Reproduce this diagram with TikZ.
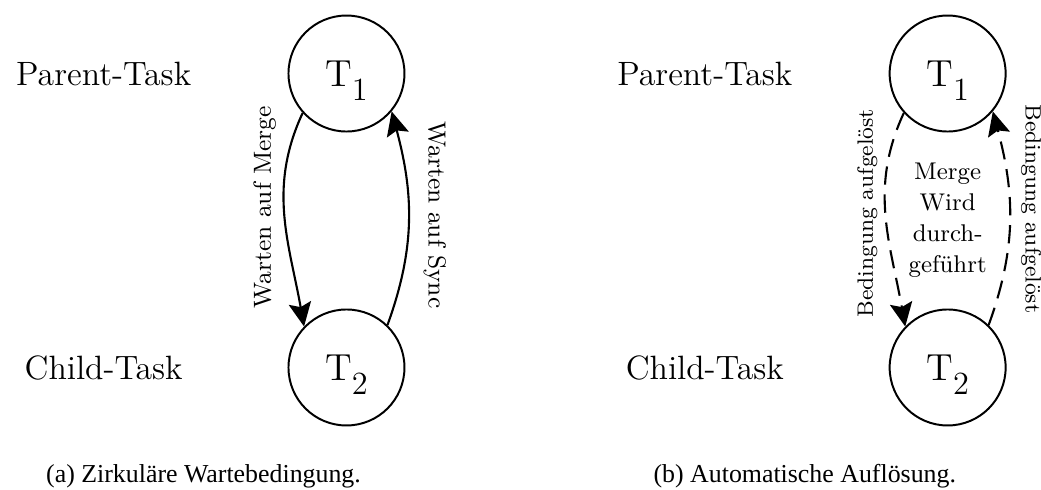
\documentclass[tikz,border=0pt]{standalone}
\usepackage{fontspec}
\newfontfamily\captionfont{Liberation Serif}
\usepackage{tikz}
\usetikzlibrary{positioning}
\usetikzlibrary{calc}
\usetikzlibrary{arrows.meta}
\tikzset{>=stealth}
\tikzstyle{line} = [draw, -{Stealth[length=8.5pt,width=8pt,inset=1.5pt]}]
\newcommand{\tasknr}[1]{T\raisebox{-5pt}[0pt][0pt]{\fontsize{11.5}{11.5}\selectfont #1}}

\begin{document}
\begin{tikzpicture}[%
      task/.style={draw, circle, line width=0.7pt, minimum size=1.45cm,
      inner sep=0pt, font=\fontsize{13.4}{16}\selectfont},
      role/.style={font=\fontsize{12}{14}\selectfont},
      note/.style={font=\fontsize{8.8}{11}\selectfont},
      leftnote/.style={note, rotate=90, anchor=south, inner sep=2.5pt},
      rightnote/.style={note, rotate=-90, anchor=south, inner sep=5pt},
      resolved/.style={dash pattern=on 6.5pt off 3.5pt},
      caption/.style={font=\captionfont\fontsize{9.2}{11}\selectfont, anchor=base}]
    \useasboundingbox (0,0) rectangle (13.0125,-6.125);
    %% (a) waiting for each other
    \node [task] (T1a) at (4.331,-0.919) {\tasknr{1}};
    \node [task, below=2.2cm of T1a] (T2a) {\tasknr{2}};
    \node [role, left=1.08cm of T1a] (parentA) {Parent-Task};
    \node [role] (childA) at (parentA |- T2a) {Child-Task};
    \path [line, line width=0.75pt] (T1a.222) to [out=245, in=100] node [leftnote, pos=0.45] (mergeA) {Warten auf Merge} (T2a.136);
    \path [line, line width=0.75pt] (T2a.46) to [out=70, in=-75] node [rightnote, pos=0.52] (syncA) {Warten auf Sync} (T1a.320);
    \node [caption] (capA) at (2.544,-6.0375) {(a) Zirkuläre Wartebedingung.};
    %% (b) resolved
    \node [task, right=6.04cm of T1a] (T1b) {\tasknr{1}};
    \node [task, below=2.2cm of T1b] (T2b) {\tasknr{2}};
    \node [role, left=1.08cm of T1b] (parentB) {Parent-Task};
    \node [role] (childB) at (parentB |- T2b) {Child-Task};
    \path [line, resolved, line width=0.75pt] (T1b.222) to [out=245, in=100] node [leftnote, pos=0.48, font=\fontsize{7.9}{10}\selectfont] (condB1) {Bedingung aufgelöst} (T2b.136);
    \path [line, resolved, line width=0.75pt] (T2b.46) to [out=70, in=-75] node [rightnote, pos=0.55, inner sep=3.8pt, font=\fontsize{7.9}{10}\selectfont] (condB2) {Bedingung aufgelöst} (T1b.320);
    \node [note, align=center, font=\fontsize{8.6}{11}\selectfont] (mergeB) at ($(T1b)!0.5!(T2b)$) {Merge\\Wird\\durch-\\geführt};
    \node [caption] (capB) at (10.06,-6.0375) {(b) Automatische Auflösung.};
\end{tikzpicture}
\end{document}
